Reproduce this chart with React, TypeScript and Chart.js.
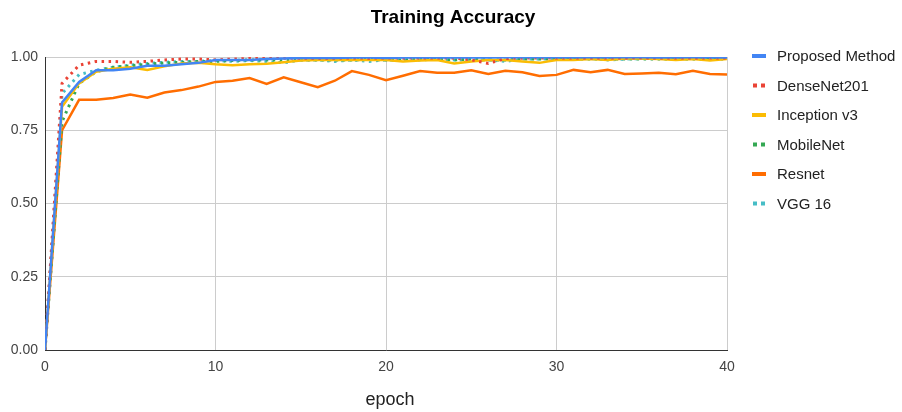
import React, { useEffect, useRef } from "react";
import { Chart, registerables } from "chart.js";

Chart.register(...registerables);

const epochs = Array.from({ length: 41 }, (_, i) => i);

const proposed = [0, 0.845, 0.915, 0.955, 0.955, 0.96, 0.97, 0.97, 0.975, 0.98, 0.99, 0.99, 0.99, 0.993, 0.995, 0.997, 0.997, 0.997, 0.998, 0.998, 0.997, 0.998, 0.998, 0.998, 0.999, 0.998, 0.998, 0.999, 0.999, 0.999, 0.999, 0.999, 0.999, 0.999, 0.999, 0.999, 0.998, 0.999, 0.999, 0.999, 0.998];
const densenet = [0, 0.91, 0.972, 0.985, 0.985, 0.982, 0.985, 0.99, 0.993, 0.993, 0.99, 0.993, 0.995, 0.995, 0.996, 0.996, 0.996, 0.996, 0.997, 0.996, 0.997, 0.996, 0.997, 0.997, 0.996, 0.99, 0.978, 0.995, 0.996, 0.997, 0.997, 0.997, 0.997, 0.997, 0.996, 0.997, 0.997, 0.997, 0.997, 0.997, 0.997];
const inception = [0, 0.83, 0.91, 0.95, 0.96, 0.965, 0.956, 0.968, 0.978, 0.98, 0.975, 0.972, 0.975, 0.977, 0.982, 0.988, 0.99, 0.99, 0.99, 0.99, 0.99, 0.985, 0.988, 0.99, 0.978, 0.985, 0.99, 0.99, 0.985, 0.98, 0.99, 0.99, 0.993, 0.99, 0.995, 0.995, 0.993, 0.99, 0.993, 0.988, 0.993];
const mobilenet = [0, 0.78, 0.91, 0.95, 0.965, 0.97, 0.975, 0.98, 0.982, 0.985, 0.985, 0.988, 0.99, 0.99, 0.99, 0.99, 0.99, 0.99, 0.99, 0.992, 0.99, 0.99, 0.992, 0.993, 0.99, 0.993, 0.99, 0.99, 0.993, 0.993, 0.993, 0.993, 0.993, 0.993, 0.993, 0.993, 0.993, 0.993, 0.993, 0.993, 0.993];
const resnet = [0, 0.75, 0.854, 0.854, 0.86, 0.872, 0.861, 0.879, 0.887, 0.899, 0.915, 0.919, 0.928, 0.908, 0.931, 0.914, 0.897, 0.919, 0.952, 0.939, 0.921, 0.936, 0.952, 0.946, 0.946, 0.955, 0.942, 0.953, 0.948, 0.935, 0.939, 0.956, 0.948, 0.956, 0.942, 0.944, 0.946, 0.941, 0.953, 0.942, 0.94];
const vgg16 = [0, 0.875, 0.94, 0.955, 0.965, 0.972, 0.978, 0.982, 0.985, 0.985, 0.988, 0.985, 0.988, 0.985, 0.98, 0.99, 0.99, 0.985, 0.99, 0.985, 0.99, 0.99, 0.99, 0.993, 0.99, 0.99, 0.99, 0.985, 0.993, 0.993, 0.995, 0.993, 0.995, 0.99, 0.993, 0.995, 0.995, 0.993, 0.995, 0.995, 0.995];

const seriesNames = ["Proposed Method", "DenseNet201", "Inception v3", "MobileNet", "Resnet", "VGG 16"];
const seriesValues = [proposed, densenet, inception, mobilenet, resnet, vgg16];
const seriesColors = ["#4285F4", "#EA4335", "#FBBC04", "#34A853", "#FF6D01", "#46BDC6"];
const seriesDotted = [false, true, false, true, false, true];

const yTicks = [0, 0.25, 0.5, 0.75, 1.0];
const xTicks = [0, 10, 20, 30, 40];

const titleText = "Training Accuracy";
const xTitle = "epoch";
const FONT = "Arial, 'Liberation Sans', sans-serif";

const overlayPlugin = {
  id: "overlay",
  afterDraw(chart: any) {
    const ctx = chart.ctx;
    ctx.save();
    // title
    ctx.fillStyle = "#000";
    ctx.font = `bold 19px ${FONT}`;
    ctx.textAlign = "center";
    ctx.textBaseline = "middle";
    ctx.fillText(titleText, 453, 18);
    // x title
    ctx.fillStyle = "#222";
    ctx.font = `18px ${FONT}`;
    ctx.fillText(xTitle, 390, 400);
    // legend
    const lx = 752;
    const ly0 = 56;
    const gap = 29.5;
    ctx.textAlign = "left";
    ctx.font = `15px ${FONT}`;
    seriesNames.forEach((name, i) => {
      const cy = ly0 + i * gap;
      ctx.fillStyle = seriesColors[i];
      if (seriesDotted[i]) {
        ctx.fillRect(lx + 1, cy - 2, 4, 4);
        ctx.fillRect(lx + 9, cy - 2, 4, 4);
      } else {
        ctx.fillRect(lx, cy - 2, 14, 4);
      }
      ctx.fillStyle = "#222";
      ctx.fillText(name, lx + 25, cy + 1);
    });
    ctx.restore();
  },
};

export default function App() {
  const ref = useRef<HTMLCanvasElement | null>(null);
  useEffect(() => {
    if (!ref.current) return;
    const datasets = seriesNames.map((name, i) => ({
      label: name,
      data: epochs.map((e, j) => ({ x: e, y: seriesValues[i][j] })),
      borderColor: seriesColors[i],
      backgroundColor: seriesColors[i],
      borderWidth: seriesDotted[i] ? 3 : 2.5,
      borderDash: seriesDotted[i] ? [2.5, 4.5] : [],
      borderCapStyle: "butt" as const,
      pointRadius: 0,
      tension: 0,
      fill: false,
    }));
    const chart = new Chart(ref.current, {
      type: "line",
      data: { datasets },
      options: {
        animation: false,
        responsive: false,
        maintainAspectRatio: false,
        layout: { padding: { left: 0, right: 175, top: 57, bottom: 0 } },
        plugins: {
          legend: { display: false },
          title: { display: false },
          tooltip: { enabled: false },
        },
        scales: {
          x: {
            type: "linear",
            min: 0,
            max: 40,
            afterBuildTicks: (scale: any) => {
              scale.ticks = xTicks.map((v) => ({ value: v }));
            },
            afterFit: (scale: any) => {
              scale.height = 62;
            },
            ticks: {
              color: "#444",
              font: { family: FONT, size: 14 },
              padding: 9,
              maxRotation: 0,
            },
            grid: { color: "#cccccc", lineWidth: 1, drawTicks: false },
            border: { color: "#333333", width: 1 },
          },
          y: {
            type: "linear",
            min: 0,
            max: 1,
            afterBuildTicks: (scale: any) => {
              scale.ticks = yTicks.map((v) => ({ value: v }));
            },
            afterFit: (scale: any) => {
              scale.width = 45;
            },
            ticks: {
              color: "#444",
              font: { family: FONT, size: 14 },
              padding: 7,
              callback: (v: any) => Number(v).toFixed(2),
            },
            grid: { color: "#cccccc", lineWidth: 1, drawTicks: false },
            border: { color: "#333333", width: 1 },
          },
        },
      },
      plugins: [overlayPlugin],
    });
    return () => chart.destroy();
  }, []);
  return (
    <div style={{ position: "fixed", left: 0, top: 0, width: 902, height: 412, background: "#fff" }}>
      <canvas ref={ref} width={902} height={412} style={{ width: 902, height: 412, display: "block" }} />
    </div>
  );
}
